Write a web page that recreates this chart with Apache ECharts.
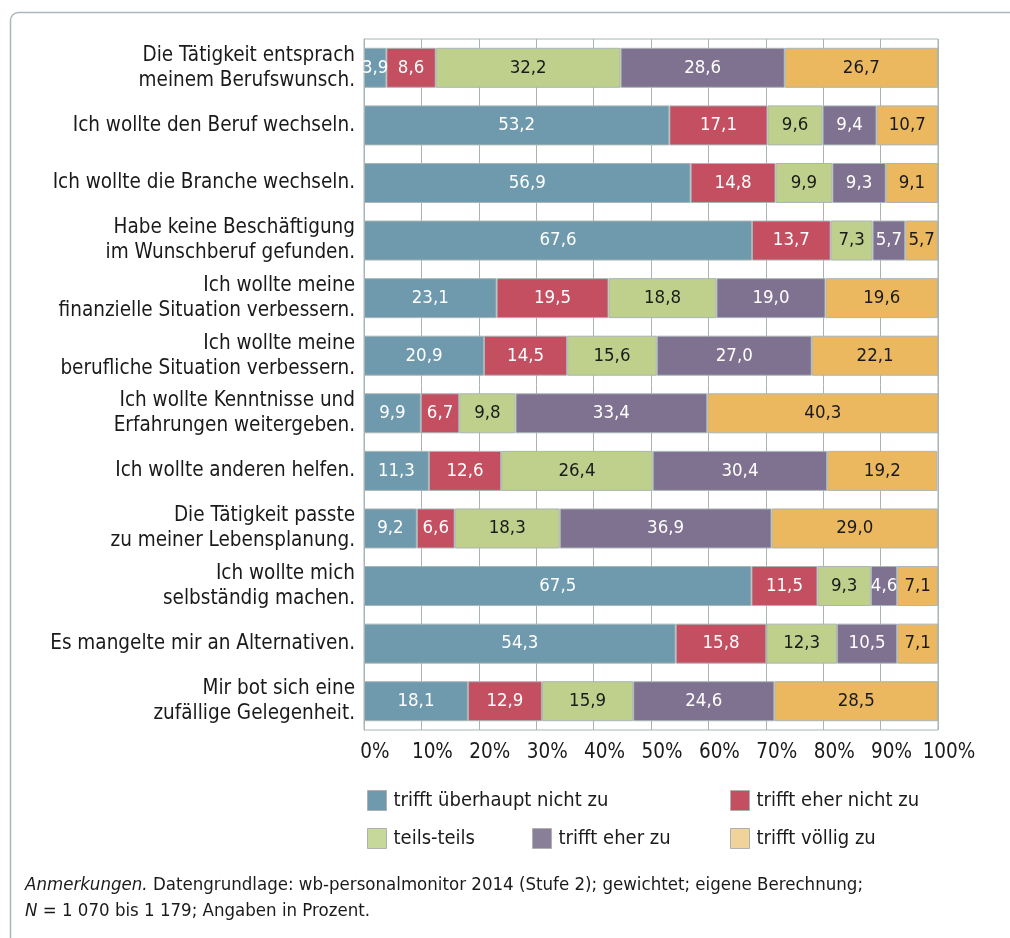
<!DOCTYPE html>
<html lang='de'>
  <head>
    <meta charset='utf-8'>
    <title>Gründe</title>
    <style>
      html, body { margin: 0; padding: 0; background: #fff; }
      #main { width: 1010px; height: 938px; }
    </style>
  </head>
  <body>
    <div id="main"></div>
    <script src="https://cdn.jsdelivr.net/npm/echarts@6/dist/echarts.min.js"></script>
    <script>
      var categories = [
        'Die Tätigkeit entsprach\nmeinem Berufswunsch.',
        'Ich wollte den Beruf wechseln.',
        'Ich wollte die Branche wechseln.',
        'Habe keine Beschäftigung\nim Wunschberuf gefunden.',
        'Ich wollte meine\nfinanzielle Situation verbessern.',
        'Ich wollte meine\nberufliche Situation verbessern.',
        'Ich wollte Kenntnisse und\nErfahrungen weitergeben.',
        'Ich wollte anderen helfen.',
        'Die Tätigkeit passte\nzu meiner Lebensplanung.',
        'Ich wollte mich\nselbständig machen.',
        'Es mangelte mir an Alternativen.',
        'Mir bot sich eine\nzufällige Gelegenheit.'
      ];
      var seriesNames = ['trifft überhaupt nicht zu', 'trifft eher nicht zu', 'teils-teils', 'trifft eher zu', 'trifft völlig zu'];
      var ueberhauptNicht = [3.9, 53.2, 56.9, 67.6, 23.1, 20.9, 9.9, 11.3, 9.2, 67.5, 54.3, 18.1];
      var eherNicht       = [8.6, 17.1, 14.8, 13.7, 19.5, 14.5, 6.7, 12.6, 6.6, 11.5, 15.8, 12.9];
      var teilsTeils      = [32.2, 9.6, 9.9, 7.3, 18.8, 15.6, 9.8, 26.4, 18.3, 9.3, 12.3, 15.9];
      var eherZu          = [28.6, 9.4, 9.3, 5.7, 19.0, 27.0, 33.4, 30.4, 36.9, 4.6, 10.5, 24.6];
      var voelligZu       = [26.7, 10.7, 9.1, 5.7, 19.6, 22.1, 40.3, 19.2, 29.0, 7.1, 7.1, 28.5];
      var tickLabels = ['0%', '10%', '20%', '30%', '40%', '50%', '60%', '70%', '80%', '90%', '100%'];

      var values = [ueberhauptNicht, eherNicht, teilsTeils, eherZu, voelligZu];
      var colors = ['#6f9aad', '#c44f61', '#bfd08c', '#7f7290', '#ebb85f'];
      var legendColors = ['#6f9aad', '#c44f61', '#c6d89a', '#8a7f98', '#f0d39a'];
      var labelColors = ['#fff', '#fff', '#1a1a1a', '#fff', '#1a1a1a'];
      var font = '"DejaVu Sans Condensed", "DejaVu Sans", sans-serif';

      var series = [];
      for (var i = 0; i < values.length; i++) {
        series.push({
          name: seriesNames[i],
          type: 'bar',
          stack: 'total',
          barWidth: 40,
          data: values[i],
          itemStyle: { color: colors[i], borderColor: '#a9b5b5', borderWidth: 1 },
          label: {
            show: true,
            position: 'inside',
            color: labelColors[i],
            fontFamily: font,
            fontSize: 18.5,
            formatter: function (p) { return p.value.toFixed(1).replace('.', ','); }
          },
          emphasis: { disabled: true }
        });
      }

      function legendItem(idx, left, top) {
        return {
          left: left, top: top, padding: 0,
          itemWidth: 19, itemHeight: 20, itemGap: 0,
          icon: 'rect',
          selectedMode: false,
          textStyle: { fontFamily: font, fontSize: 20, color: '#1a1a1a', padding: [0, 0, 0, 2] },
          data: [{ name: seriesNames[idx], itemStyle: { color: legendColors[idx], borderColor: '#b0b0b0', borderWidth: 1 } }]
        };
      }

      var myChart = echarts.init(document.getElementById('main'));
      var option = {
        backgroundColor: '#fff',
        animation: false,
        grid: {
          left: 364, right: 72, top: 39, bottom: 208,
          outerBoundsMode: 'none',
          show: true, borderColor: '#a9b5b5', borderWidth: 1
        },
        legend: [
          legendItem(0, 367, 790),
          legendItem(1, 730, 790),
          legendItem(2, 367, 828),
          legendItem(3, 532, 828),
          legendItem(4, 730, 828)
        ],
        xAxis: {
          type: 'value', min: 0, max: 100, interval: 10,
          axisLine: { show: false },
          axisTick: { show: false },
          splitLine: { show: true, lineStyle: { color: '#a9b5b5', width: 1 } },
          axisLabel: {
            color: '#1a1a1a', fontFamily: font, fontSize: 20.5, margin: 12,
            padding: [0, 0, 0, 22],
            formatter: function (v) { return tickLabels[Math.round(v / 10)]; }
          }
        },
        yAxis: {
          type: 'category', inverse: true, data: categories,
          axisLine: { show: true, lineStyle: { color: '#a9b5b5' } },
          axisTick: { show: false },
          axisLabel: { color: '#1a1a1a', fontFamily: font, fontSize: 20.5, lineHeight: 25, margin: 9 }
        },
        series: series,
        graphic: [
          {
            type: 'rect', silent: true, z: -10,
            shape: { x: 10.5, y: 12.5, width: 1040, height: 980, r: 8 },
            style: { fill: 'none', stroke: '#a9b8bd', lineWidth: 1.5 }
          },
          {
            type: 'text', left: 25, top: 872,
            style: {
              text: '{i|Anmerkungen.} Datengrundlage: wb-personalmonitor 2014 (Stufe 2); gewichtet; eigene Berechnung;\n{i|N} = 1 070 bis 1 179; Angaben in Prozent.',
              fontFamily: font, fontSize: 18.5, lineHeight: 26, fill: '#1a1a1a',
              rich: { i: { fontStyle: 'italic', fontFamily: font, fontSize: 18.5 } }
            }
          }
        ]
      };
      myChart.setOption(option);
    </script>
  </body>
</html>
